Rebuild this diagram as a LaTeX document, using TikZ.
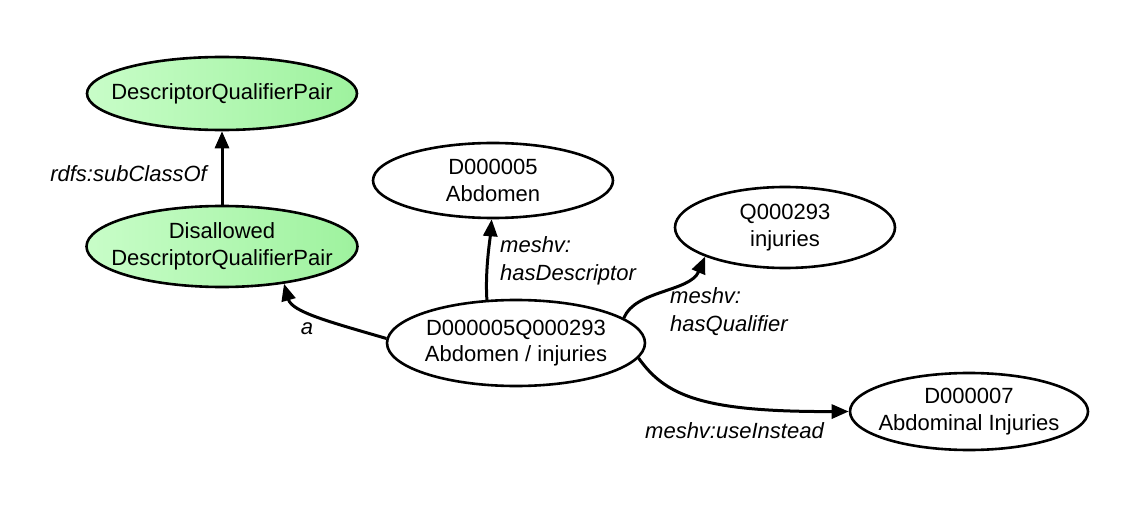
\documentclass[tikz,border=0pt]{standalone}
\usepackage{fontspec}
\setmainfont{Liberation Sans}
\usetikzlibrary{shapes.geometric,arrows.meta}
\definecolor{gl}{RGB}{200,253,200}
\definecolor{gr}{RGB}{158,242,158}
\tikzset{
 ell/.style={ellipse, draw=black, line width=2.6pt, inner sep=0pt, fill=white},
 grn/.style={ellipse, draw=black, line width=2.6pt, inner sep=0pt, left color=gl, right color=gr},
 ntext/.style={font=\fontsize{22}{26.5}\selectfont, align=center, inner sep=0pt},
 elab/.style={font=\fontsize{22}{28}\selectfont\itshape, align=left, inner sep=0pt},
 rel/.style={line width=3pt, -{Triangle[length=17pt,width=14pt]}},
}
\begin{document}
\begin{tikzpicture}[x=1pt,y=-1pt]
\path[use as bounding box, fill=white] (0,0) rectangle (1138,513);
% nodes
\node[grn, minimum width=270, minimum height=73,
      label={[ntext]center:DescriptorQualifierPair}] (dqp) at (222,93.5) {};
\node[grn, minimum width=271, minimum height=81,
      label={[ntext]center:{Disallowed\\DescriptorQualifierPair}}] (dis) at (222,246.5) {};
\node[ell, minimum width=240, minimum height=75,
      label={[ntext]center:{D000005\\Abdomen}}] (d5) at (493,180.5) {};
\node[ell, minimum width=220, minimum height=81,
      label={[ntext]center:{Q000293\\injuries}}] (q) at (785,227.5) {};
\node[ell, minimum width=258, minimum height=86,
      label={[ntext]center:{D000005Q000293\\Abdomen / injuries}}] (main) at (516,343) {};
\node[ell, minimum width=238, minimum height=77,
      label={[ntext]center:{D000007\\Abdominal Injuries}}] (d7) at (969,411.5) {};
% connectors
\draw[rel] (dis.north) -- (dqp.south);
\draw[rel] (main.178) .. controls (330,322) and (292,312) .. (dis.-31);
\draw[rel] (main.124) .. controls (485,270) and (490,240) .. (d5.268);
\draw[rel] (main.13) .. controls (635,290) and (690,292) .. (q.200);
\draw[rel] (main.-7) .. controls (665,395) and (700,412) .. (d7.west);
% edge labels
\node[elab, anchor=base east] (l1) at (207,182) {rdfs:subClassOf};
\node[elab, anchor=north west] (l2) at (500,236) {meshv:\\hasDescriptor};
\node[elab, anchor=north west] (l3) at (670,287) {meshv:\\hasQualifier};
\node[elab, anchor=base west] (l4) at (645,438) {meshv:useInstead};
\node[elab, anchor=base] (l5) at (307,334) {a};
\end{tikzpicture}
\end{document}
